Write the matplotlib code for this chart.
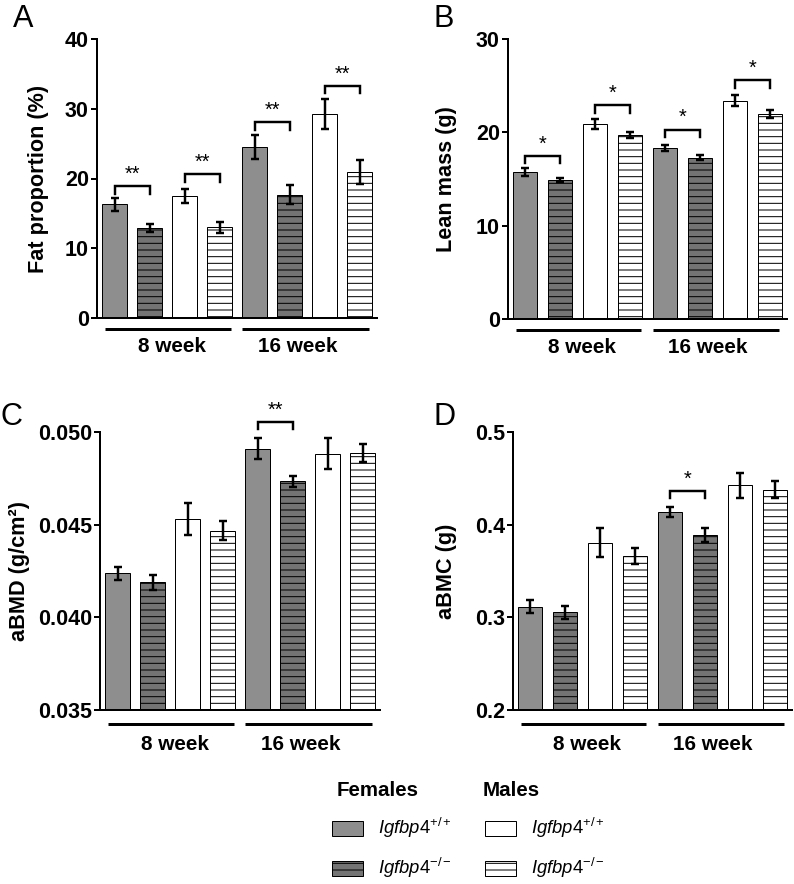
import numpy as np
import matplotlib
matplotlib.use('Agg')
import matplotlib.pyplot as plt
import matplotlib.transforms as mtransforms
from matplotlib.patches import Rectangle

plt.rcParams['font.family'] = ['Liberation Sans', 'DejaVu Sans']
plt.rcParams['mathtext.fontset'] = 'custom'
plt.rcParams['mathtext.it'] = 'Liberation Sans:italic'
plt.rcParams['mathtext.rm'] = 'Liberation Sans'
plt.rcParams['hatch.linewidth'] = 0.9

# bar order: F +/+, F -/-, M +/+, M -/-  (8 week), then the same for 16 week
weeks = ['8 week', '16 week']
fat_mean = [16.3, 12.9, 17.5, 13.0, 24.5, 17.7, 29.2, 20.9]
fat_sem = [0.93, 0.6, 0.96, 0.75, 1.7, 1.4, 2.15, 1.75]
lean_mean = [15.8, 14.9, 20.9, 19.7, 18.3, 17.3, 23.4, 21.95]
lean_sem = [0.43, 0.2, 0.5, 0.36, 0.3, 0.27, 0.6, 0.4]
bmd_mean = [0.04238, 0.04188, 0.04530, 0.04468, 0.04909, 0.04734, 0.04883, 0.04887]
bmd_sem = [0.00036, 0.00039, 0.00088, 0.0005, 0.00057, 0.00029, 0.00084, 0.00048]
bmc_mean = [0.3114, 0.3053, 0.3807, 0.366, 0.4134, 0.3886, 0.4425, 0.4379]
bmc_sem = [0.0072, 0.0072, 0.0153, 0.0086, 0.0054, 0.0075, 0.0133, 0.0088]

# significance brackets: (left bar index, bracket height, label)
fat_sig = [(0, 18.9, '**'), (2, 20.6, '**'), (4, 28.05, '**'), (6, 33.3, '**')]
lean_sig = [(0, 17.5, '*'), (2, 22.9, '*'), (4, 20.3, '*'), (6, 25.6, '*')]
bmd_sig = [(4, 0.05054, '**')]
bmc_sig = [(4, 0.4364, '*')]

faces = ['#8e8e8e', '#747474', 'white', 'white'] * 2
hatches = ['', '--', '', '--'] * 2

DPI = 80
W, H = 794, 884
fig = plt.figure(figsize=(W / DPI, H / DPI), dpi=DPI)


def px_axes(l, t, r, b):
    return fig.add_axes([l / W, 1 - b / H, (r - l) / W, (b - t) / H])


def panel(ax, mean, sem, ylim, yticks, fmt, ylabel, labx, sig, line_y, lab_y):
    x = np.arange(len(mean))
    bars = ax.bar(x, mean, width=0.69, color=faces, edgecolor='black',
                  linewidth=0.9, zorder=2)
    for p, h in zip(bars, hatches):
        p.set_hatch(h)
    ax.errorbar(x, mean, yerr=sem, fmt='none', ecolor='black', elinewidth=2.2,
                capsize=3.6, capthick=2.2, zorder=3)
    ax.set_xlim(-0.5, 7.5)
    ax.set_ylim(ylim)
    ax.set_yticks(yticks)
    ax.set_yticklabels([fmt.format(v) for v in yticks], fontweight='bold')
    ax.set_xticks([])
    ax.spines['top'].set_visible(False)
    ax.spines['right'].set_visible(False)
    ax.spines['left'].set_linewidth(1.8)
    ax.spines['bottom'].set_linewidth(1.8)
    ax.tick_params(axis='y', length=5.4, width=1.8, labelsize=19.4, pad=2)
    ax.set_ylabel(ylabel, fontsize=19.5, fontweight='bold')
    ax.yaxis.set_label_coords(labx, 0.5)

    drop = 0.027 * (ylim[1] - ylim[0])
    for i, y, s in sig:
        ax.plot([i, i, i + 1, i + 1], [y - drop, y, y, y - drop], color='black',
                lw=2.2, clip_on=False, solid_joinstyle='miter')
        ax.annotate(s, (i + 0.5, y), xytext=(0, 2), textcoords='offset points',
                    ha='center', va='bottom', fontsize=18, annotation_clip=False)

    trans = mtransforms.blended_transform_factory(ax.transData, ax.transAxes)
    for (x0, x1), xt, w in zip([(-0.27, 3.32), (3.65, 7.28)], [1.63, 5.23], weeks):
        ax.plot([x0, x1], [line_y, line_y], transform=trans, color='black',
                lw=2.7, clip_on=False, solid_capstyle='butt')
        ax.text(xt, lab_y, w, transform=trans, ha='center', va='center',
                fontsize=18.7, fontweight='bold')


axA = px_axes(97, 39, 377, 318)
panel(axA, fat_mean, fat_sem, (0, 40), [0, 10, 20, 30, 40], '{:.0f}',
      'Fat proportion (%)', -0.172, fat_sig, -0.039, -0.103)
axB = px_axes(508, 39, 787, 319)
panel(axB, lean_mean, lean_sem, (0, 30), [0, 10, 20, 30], '{:.0f}',
      'Lean mass (g)', -0.183, lean_sig, -0.039, -0.103)
axC = px_axes(100, 432, 380, 710)
panel(axC, bmd_mean, bmd_sem, (0.035, 0.050), [0.035, 0.040, 0.045, 0.050], '{:.3f}',
      'aBMD (g/cm²)', -0.25, bmd_sig, -0.052, -0.124)
axD = px_axes(513, 432, 792, 710)
panel(axD, bmc_mean, bmc_sem, (0.2, 0.5), [0.2, 0.3, 0.4, 0.5], '{:.1f}',
      'aBMC (g)', -0.2, bmc_sig, -0.052, -0.124)

for letter, x, y in [('A', 13, 27), ('B', 433, 27), ('C', 1, 425), ('D', 433, 425)]:
    fig.text(x / W, 1 - y / H, letter, fontsize=27.6, va='baseline', ha='left')

# legend
fig.text(337 / W, 1 - 790 / H, 'Females', fontsize=18.5, fontweight='bold', va='center')
fig.text(483 / W, 1 - 790 / H, 'Males', fontsize=18.5, fontweight='bold', va='center')
legend_items = [
    (332, 821, '#8e8e8e', '', r'$\mathit{Igfbp4}^{+/+}$'),
    (332, 861, '#747474', '--', r'$\mathit{Igfbp4}^{-/-}$'),
    (485, 821, 'white', '', r'$\mathit{Igfbp4}^{+/+}$'),
    (485, 861, 'white', '--', r'$\mathit{Igfbp4}^{-/-}$'),
]
for x, y, fc, h, lab in legend_items:
    r = Rectangle((x / W, 1 - (y + 15) / H), 31 / W, 15 / H, transform=fig.transFigure,
                  facecolor=fc, edgecolor='black', linewidth=0.9, hatch=h)
    fig.add_artist(r)
    fig.text((x + 46) / W, 1 - (y + 7) / H, lab, fontsize=16.7, va='center')

fig.savefig('out.png', dpi=DPI)
